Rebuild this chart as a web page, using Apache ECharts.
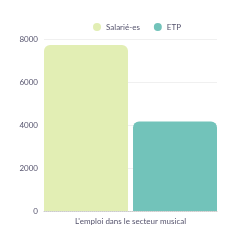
<!DOCTYPE html>
<html><head><meta charset="utf-8">
<script src="https://cdn.jsdelivr.net/npm/echarts@6/dist/echarts.min.js"></script>
<style>html,body{margin:0;padding:0;background:#fff}#c{width:240px;height:240px}</style>
</head><body><div id="c"></div>
<script>
const categories = ["L'emploi dans le secteur musical"];
const seriesNames = ["Salarié-es", "ETP"];
const salaries = [7720];
const etp = [4160];
const colors = ["#e2eeb4", "#72c3ba"];
const chart = echarts.init(document.getElementById('c'));
const textColor = '#55536d';
chart.setOption({
  animation: false,
  legend: {
    top: 18, left: 88, itemWidth: 8, itemHeight: 8, itemGap: 14, icon: 'circle',
    textStyle: {fontFamily: 'Lato', fontSize: 8, color: textColor}
  },
  grid: {left: 44, right: 23, top: 39, bottom: 29},
  xAxis: {
    type: 'category', data: categories,
    axisLine: {lineStyle: {color: '#ccc', type: 'dotted'}},
    axisTick: {show: false},
    axisLabel: {fontFamily: 'Lato', fontSize: 8, color: textColor, margin: 6}
  },
  yAxis: {
    type: 'value', min: 0, max: 8000, interval: 2000,
    axisLine: {show: false}, axisTick: {show: false},
    splitLine: {lineStyle: {color: '#f0f0f0'}},
    axisLabel: {fontFamily: 'Lato', fontSize: 8, color: textColor, margin: 6, formatter: v => String(v)}
  },
  series: [
    {name: seriesNames[0], type: 'bar', data: salaries, itemStyle: {color: colors[0], borderRadius: [6,6,0,0]}, barGap: '6%', barCategoryGap: '0%'},
    {name: seriesNames[1], type: 'bar', data: etp, itemStyle: {color: colors[1], borderRadius: [6,6,0,0]}}
  ]
});
</script></body></html>
